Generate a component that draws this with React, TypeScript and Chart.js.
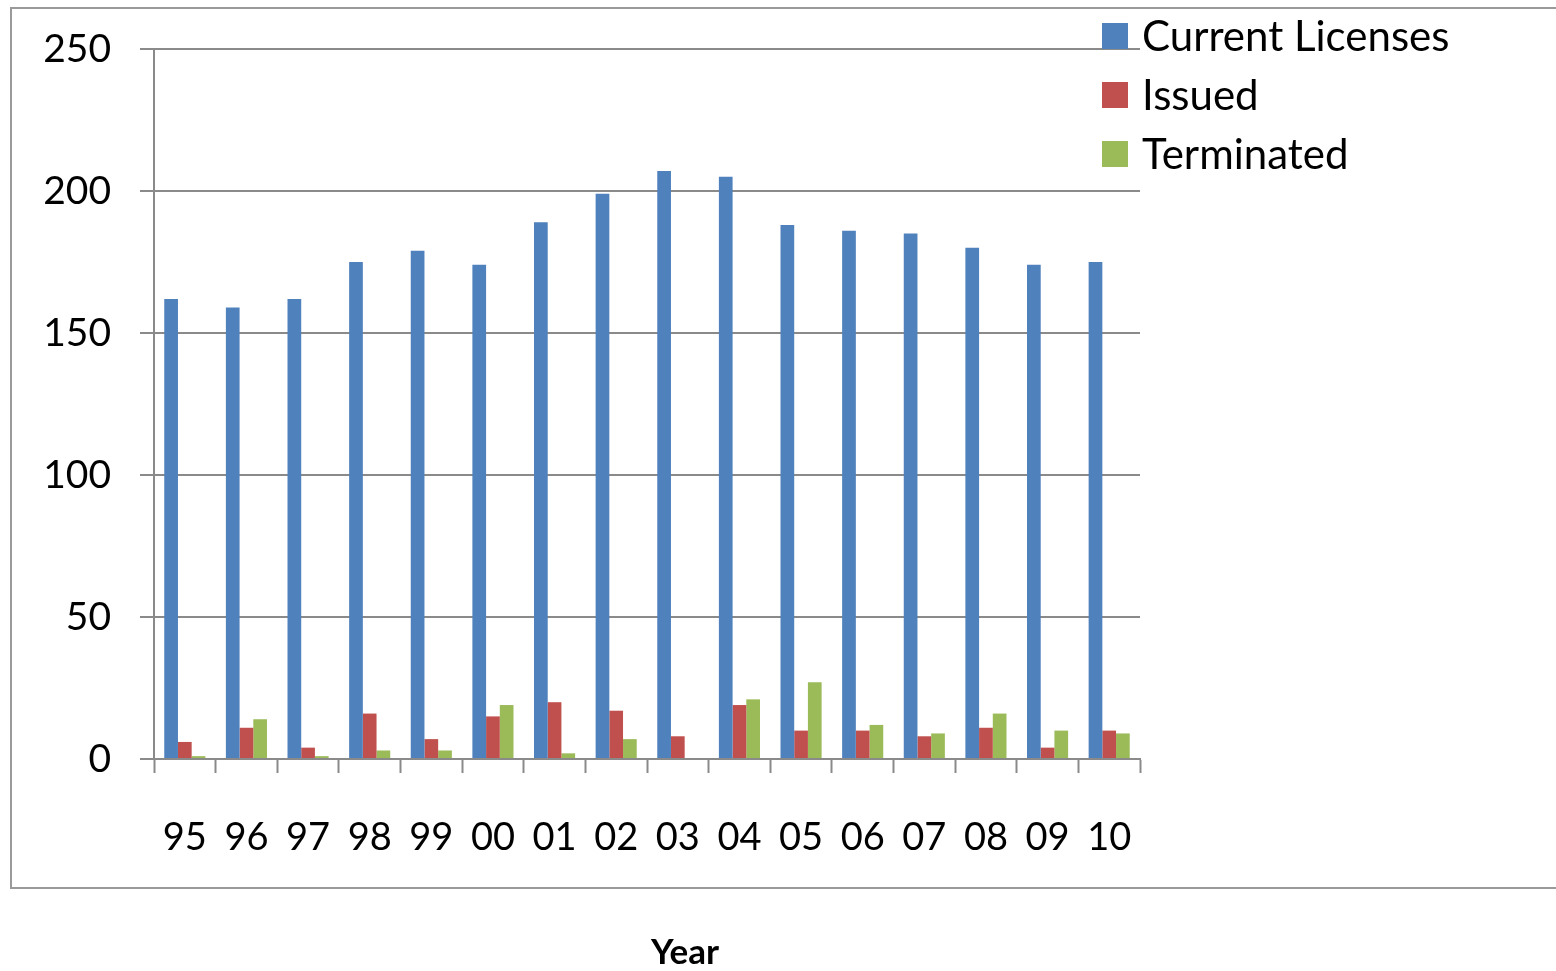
import React, { useEffect, useRef } from "react";
import { Chart, registerables } from "chart.js";

Chart.register(...registerables);

const years = ["95", "96", "97", "98", "99", "00", "01", "02", "03", "04", "05", "06", "07", "08", "09", "10"];
const currentLicenses = [162, 159, 162, 175, 179, 174, 189, 199, 207, 205, 188, 186, 185, 180, 174, 175];
const issued = [6, 11, 4, 16, 7, 15, 20, 17, 8, 19, 10, 10, 8, 11, 4, 10];
const terminated = [1, 14, 1, 3, 3, 19, 2, 7, 0, 21, 27, 12, 9, 16, 10, 9];
const seriesNames = ["Current Licenses", "Issued", "Terminated"];
const seriesColors = ["#4F81BD", "#C0504D", "#9BBB59"];
const xTitle = "Year";
const yMin = 0;
const yMax = 250;
const yStep = 50;

const FONT = "Lato, 'Open Sans', sans-serif";
const GRID = "#8a8a8a";

const decorPlugin = {
  id: "decor",
  beforeDraw(chart: any) {
    const ctx = chart.ctx;
    ctx.save();
    ctx.strokeStyle = "#9a9a9a";
    ctx.lineWidth = 2;
    ctx.strokeRect(11, 8, 1600, 880);
    ctx.restore();
  },
  afterDraw(chart: any) {
    const ctx = chart.ctx;
    ctx.save();
    chart.data.datasets.forEach((ds: any, i: number) => {
      const cy = 36 + i * 59;
      ctx.fillStyle = ds.backgroundColor;
      ctx.fillRect(1102, cy - 13, 26, 26);
      ctx.fillStyle = "#000";
      ctx.font = `42px ${FONT}`;
      ctx.textAlign = "left";
      ctx.textBaseline = "middle";
      ctx.fillText(ds.label, 1142, cy + 1);
    });
    ctx.font = `bold 35px ${FONT}`;
    ctx.textAlign = "center";
    ctx.textBaseline = "middle";
    ctx.fillStyle = "#000";
    ctx.fillText(xTitle, 685, 953);
    ctx.restore();
  },
};

export default function App() {
  const ref = useRef<HTMLCanvasElement | null>(null);
  useEffect(() => {
    if (!ref.current) return;
    const values = [currentLicenses, issued, terminated];
    const chart = new Chart(ref.current, {
      type: "bar",
      data: {
        labels: years,
        datasets: seriesNames.map((name, i) => ({
          label: name,
          data: values[i],
          backgroundColor: seriesColors[i],
          borderWidth: 0,
          categoryPercentage: 0.667,
          barPercentage: 1,
        })),
      },
      plugins: [decorPlugin],
      options: {
        responsive: false,
        animation: false,
        layout: { padding: { left: 0, top: 49, right: 416, bottom: 0 } },
        plugins: { legend: { display: false }, tooltip: { enabled: false }, title: { display: false } },
        scales: {
          x: {
            afterFit(scale: any) {
              scale.height = 212;
              scale.paddingLeft = 0;
              scale.paddingRight = 0;
            },
            grid: {
              drawOnChartArea: false,
              drawTicks: true,
              tickLength: 14,
              tickColor: GRID,
              tickWidth: 2,
              offset: true,
            },
            border: { display: true, color: GRID, width: 2 },
            ticks: {
              color: "#000",
              font: { family: FONT, size: 38 },
              padding: 42,
              maxRotation: 0,
              autoSkip: false,
            },
          },
          y: {
            min: yMin,
            max: yMax,
            afterFit(scale: any) {
              scale.width = 154;
              scale.paddingTop = 0;
              scale.paddingBottom = 0;
            },
            grid: {
              drawOnChartArea: true,
              drawTicks: true,
              tickLength: 14,
              color: GRID,
              tickColor: GRID,
              lineWidth: 2,
              tickWidth: 2,
            },
            border: { display: true, color: GRID, width: 2 },
            ticks: {
              stepSize: yStep,
              color: "#000",
              font: { family: FONT, size: 39 },
              padding: 29,
            },
          },
        },
      },
    });
    return () => chart.destroy();
  }, []);
  return (
    <div style={{ position: "fixed", left: 0, top: 0, width: 1556, height: 971, background: "#fff" }}>
      <canvas ref={ref} width={1556} height={971} style={{ width: 1556, height: 971, display: "block" }} />
    </div>
  );
}
